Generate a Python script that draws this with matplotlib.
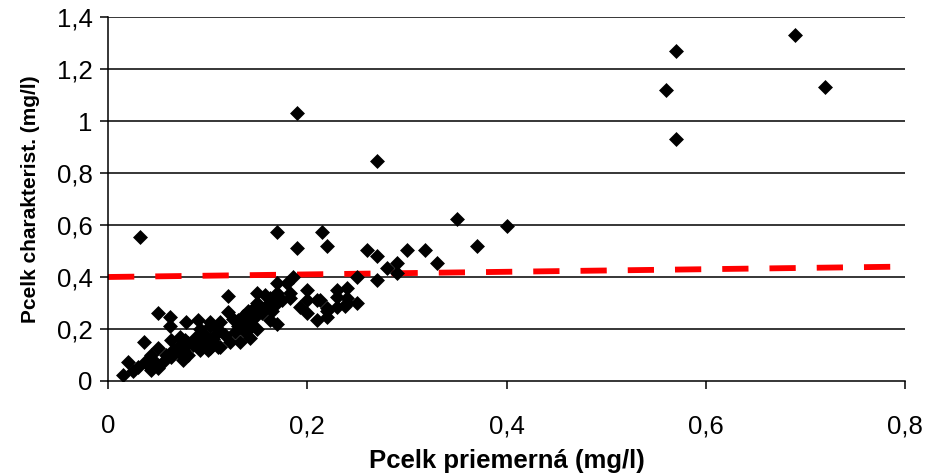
import matplotlib
matplotlib.use('Agg')
import matplotlib.pyplot as plt

# ==================== data ====================
p_mean = [0.015, 0.02, 0.025, 0.03, 0.037, 0.036, 0.043, 0.043, 0.05, 0.05,
          0.055, 0.05, 0.062, 0.063, 0.063, 0.062, 0.07, 0.072, 0.072, 0.075,
          0.075, 0.078, 0.08, 0.077, 0.087, 0.09, 0.092, 0.092, 0.092, 0.097,
          0.102, 0.102, 0.102, 0.107, 0.112, 0.112, 0.117, 0.12, 0.12, 0.122,
          0.127, 0.13, 0.13, 0.132, 0.132, 0.137, 0.14, 0.142, 0.142, 0.14,
          0.148, 0.148, 0.15, 0.15, 0.15, 0.157, 0.158, 0.163, 0.163, 0.17,
          0.17, 0.17, 0.17, 0.18, 0.183, 0.183, 0.186, 0.193, 0.2, 0.2,
          0.2, 0.21, 0.21, 0.213, 0.22, 0.22, 0.23, 0.23, 0.23, 0.24,
          0.24, 0.238, 0.25, 0.25, 0.27, 0.28, 0.29, 0.29, 0.33, 0.1,
          0.11, 0.08, 0.22, 0.24,
          0.11, 0.125, 0.135, 0.145, 0.155, 0.16, 0.165, 0.175, 0.065, 0.085,
          0.095, 0.105, 0.058, 0.045, 0.04,
          0.032, 0.17, 0.215, 0.19, 0.22, 0.26, 0.27, 0.30, 0.318, 0.35,
          0.37, 0.40, 0.27, 0.19, 0.56, 0.57, 0.57, 0.69, 0.72]
p_char = [0.023, 0.073, 0.04, 0.054, 0.073, 0.15, 0.10, 0.042, 0.127, 0.05,
          0.073, 0.26, 0.245, 0.158, 0.093, 0.21, 0.13, 0.17, 0.108, 0.08,
          0.12, 0.227, 0.145, 0.158, 0.165, 0.235, 0.12, 0.2, 0.18, 0.177,
          0.227, 0.125, 0.21, 0.177, 0.13, 0.227, 0.177, 0.327, 0.265, 0.15,
          0.188, 0.21, 0.235, 0.15, 0.215, 0.188, 0.27, 0.265, 0.165, 0.227,
          0.246, 0.285, 0.34, 0.2, 0.3, 0.28, 0.33, 0.235, 0.32, 0.22,
          0.34, 0.377, 0.30, 0.377, 0.338, 0.32, 0.40, 0.285, 0.35, 0.31,
          0.26, 0.235, 0.31, 0.31, 0.246, 0.28, 0.35, 0.323, 0.285, 0.358,
          0.32, 0.29, 0.30, 0.40, 0.39, 0.435, 0.415, 0.454, 0.454, 0.12,
          0.13, 0.10, 0.27, 0.30,
          0.20, 0.24, 0.25, 0.21, 0.26, 0.29, 0.27, 0.31, 0.12, 0.14,
          0.15, 0.16, 0.10, 0.08, 0.06,
          0.554, 0.573, 0.573, 0.51, 0.52, 0.504, 0.48, 0.504, 0.504, 0.625,
          0.52, 0.595, 0.845, 1.03, 1.12, 1.27, 0.93, 1.33, 1.13]

trend_x = [0.0, 0.8]
trend_y = [0.40, 0.44]

x_ticks = [0, 0.2, 0.4, 0.6, 0.8]
x_labels = ['0', '0,2', '0,4', '0,6', '0,8']
y_ticks = [0, 0.2, 0.4, 0.6, 0.8, 1.0, 1.2, 1.4]
y_labels = ['0', '0,2', '0,4', '0,6', '0,8', '1', '1,2', '1,4']
# ==============================================

plt.rcParams['font.family'] = ['Liberation Sans', 'DejaVu Sans']

fig = plt.figure(figsize=(9.25, 4.75), dpi=100)
ax = fig.add_axes([0.1168, 0.198, 0.8616, 0.766])

for yv in y_ticks[1:]:
    ax.axhline(yv, color='black', lw=1.1, zorder=1)

ax.plot(trend_x, trend_y, color='#ff0000', lw=4.2, dashes=(4.5, 3.6),
        solid_capstyle='butt', dash_capstyle='butt', zorder=2)
ax.scatter(p_mean, p_char, marker='D', s=58, color='black', linewidths=0, zorder=3)

ax.set_xlim(0, 0.8)
ax.set_ylim(0, 1.4)
ax.set_xticks(x_ticks)
ax.set_xticklabels(x_labels)
ax.set_yticks(y_ticks)
ax.set_yticklabels(y_labels)
ax.tick_params(axis='both', direction='out', length=6, width=1.1,
               labelsize=18.5, colors='black')
ax.tick_params(axis='x', pad=18)
ax.tick_params(axis='y', pad=5)

for side in ['top', 'right']:
    ax.spines[side].set_visible(False)
for side in ['left', 'bottom']:
    ax.spines[side].set_linewidth(1.1)
    ax.spines[side].set_color('black')

ax.set_xlabel('Pcelk priemerná (mg/l)', fontsize=18.5, fontweight='bold', labelpad=8)
ax.set_ylabel('Pcelk charakterist. (mg/l)', fontsize=15, fontweight='bold', labelpad=12)

fig.savefig('out.png', dpi=100)
